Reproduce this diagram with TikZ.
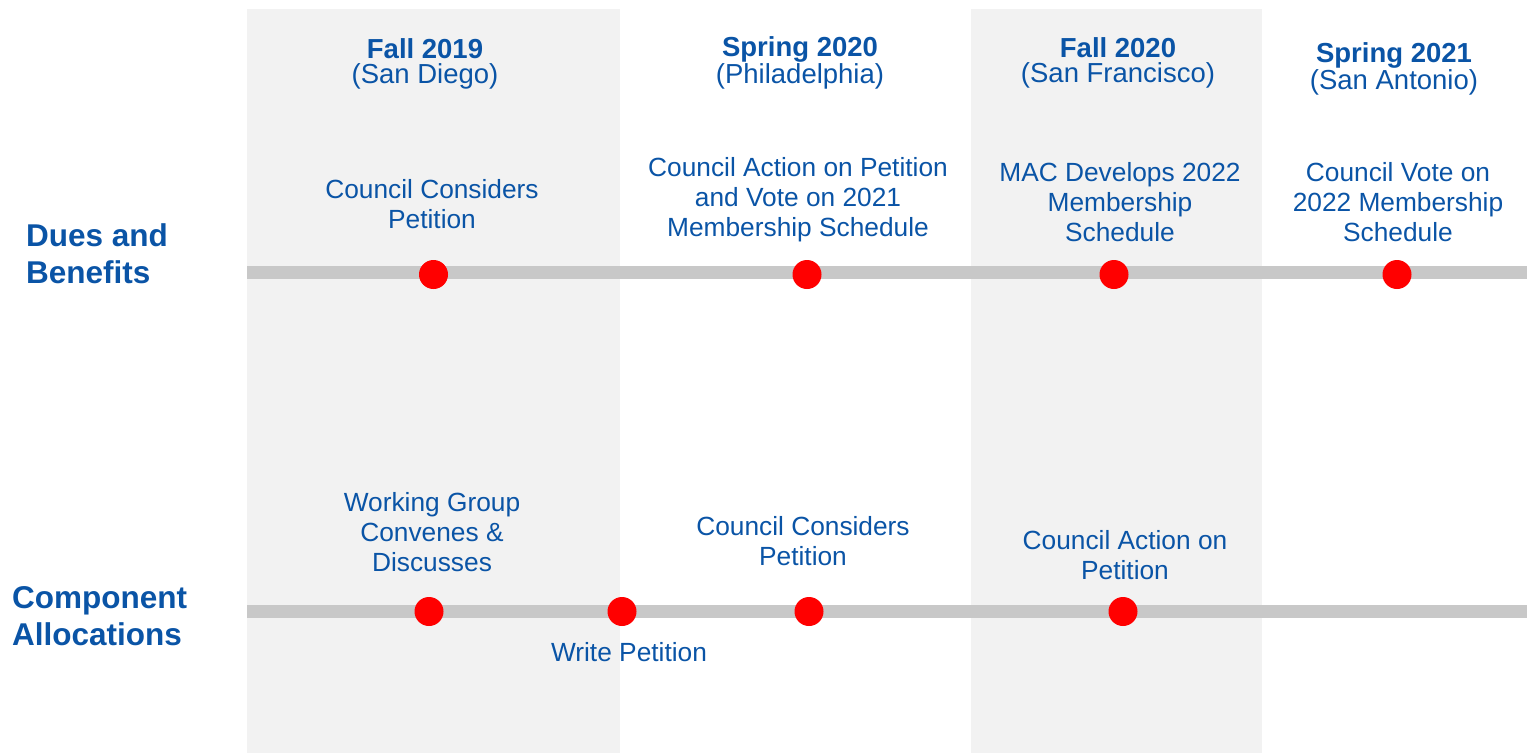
\documentclass[tikz,border=0pt]{standalone}
\usepackage{fontspec}
\setmainfont{Liberation Sans}
\definecolor{textblue}{RGB}{10, 84, 166}
\definecolor{bandgray}{RGB}{242, 242, 242}
\definecolor{linegray}{RGB}{200, 200, 200}
\definecolor{dotred}{RGB}{255, 0, 0}
\usetikzlibrary{positioning}

\begin{document}
\begin{tikzpicture}[
        x=1pt, y=-1pt,
        every node/.style={text=textblue, inner sep=0pt},
        band/.style={fill=bandgray, draw=none},
        track/.style={draw=linegray, line width=13pt},
        milestone/.style={circle, fill=dotred, minimum size=29pt, inner sep=0pt},
        season/.style={align=center, font=\fontsize{27.5}{25}\selectfont},
        event/.style={align=center, font=\fontsize{26.3}{30}\selectfont},
        rowlabel/.style={anchor=west, align=left, font=\fontsize{31.5}{37}\selectfont\bfseries}
    ]
        \useasboundingbox (0,0) rectangle (1527,753);

        % shaded semesters
        \fill[band] (247,9) rectangle (620,753);
        \fill[band] (971,9) rectangle (1262,753);

        % semester headers
        \node[season] (fall19) at (425,64) {{\bfseries Fall 2019}\\(San Diego)};
        \node[season] (spring20) at (800,63) {{\bfseries Spring 2020}\\(Philadelphia)};
        \node[season] (fall20) at (1118,63) {{\bfseries Fall 2020}\\(San Francisco)};
        \node[season] (spring21) at (1394,69) {{\bfseries Spring 2021}\\(San Antonio)};

        % row labels
        \node[rowlabel] (dues) at (26,254) {Dues and\\Benefits};
        \node[rowlabel] (comp) at (12,616) {Component\\Allocations};

        % timelines
        \coordinate (duesstart) at (247,272.5);
        \coordinate (duesend) at (1527,272.5);
        \coordinate (compstart) at (247,611);
        \coordinate (compend) at (1527,611);
        \draw[track] (duesstart) -- (duesend);
        \draw[track] (compstart) -- (compend);

        % dues milestones
        \node[milestone] (d1) at (433.5,274.5) {};
        \node[milestone] (d2) at (807,274.5) {};
        \node[milestone] (d3) at (1114,274.5) {};
        \node[milestone] (d4) at (1397,274.5) {};

        \node[event] (d1text) at (432,204.5) {Council Considers\\Petition};
        \node[event] (d2text) at (798,200) {Council Action on Petition\\and Vote on 2021\\Membership Schedule};
        \node[event] (d3text) at (1120,202) {MAC Develops 2022\\Membership\\Schedule};
        \node[event] (d4text) at (1398,202) {Council Vote on\\2022 Membership\\Schedule};

        % component milestones
        \node[milestone] (c1) at (429,611.5) {};
        \node[milestone] (c2) at (622,611.5) {};
        \node[milestone] (c3) at (809,611.5) {};
        \node[milestone] (c4) at (1123,611.5) {};

        \node[event] (c1text) at (432,532.5) {Working Group\\Convenes \&\\Discusses};
        \node[event] (c2text) at (629,652.5) {Write Petition};
        \node[event] (c3text) at (803,541) {Council Considers\\Petition};
        \node[event] (c4text) at (1125,555) {Council Action on\\Petition};
    \end{tikzpicture}
\end{document}
